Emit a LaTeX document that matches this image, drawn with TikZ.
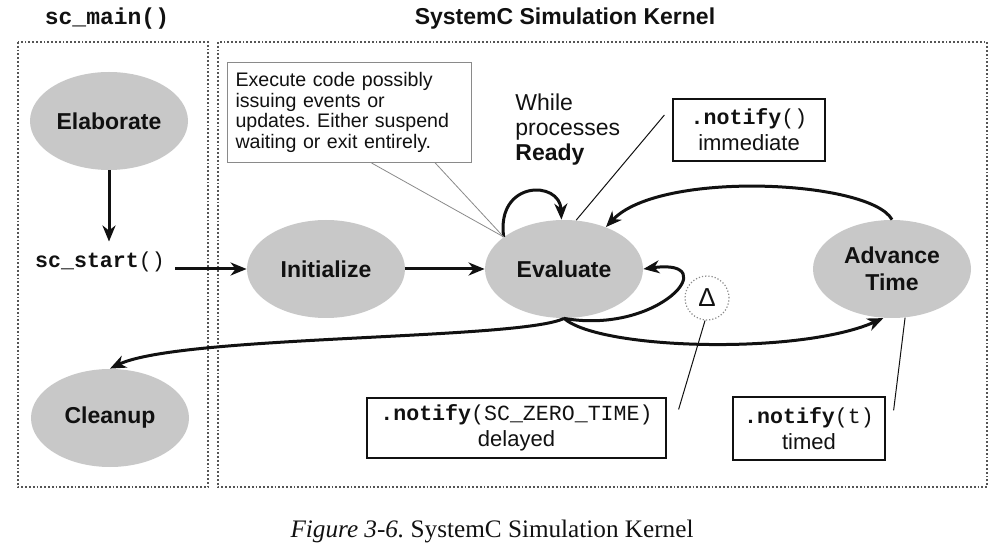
\documentclass[tikz,border=0pt]{standalone}
\usepackage{fontspec}
\setmainfont{Liberation Sans}
\setsansfont{Liberation Sans}
\setmonofont{Liberation Mono}
\newfontfamily\captionserif{Liberation Serif}
\usetikzlibrary{arrows.meta, positioning, calc, shapes.geometric}
\frenchspacing
\definecolor{ink}{HTML}{111111}
\definecolor{oval}{HTML}{C8C8C8}
\definecolor{frame}{HTML}{555555}
\definecolor{callout}{HTML}{8A8A8A}
\tikzset{
  font=\sffamily,
  >={Stealth[length=8pt, width=6.5pt, inset=2.5pt]},
  %
  state/.style={
    ellipse, fill=oval, draw=none, minimum width=79pt, minimum height=49pt,
    inner sep=0pt, align=center, text=ink,
    font=\sffamily\bfseries\fontsize{11.5}{13.5}\selectfont,
  },
  region/.style={draw=frame, line width=0.9pt, densely dotted},
  %
  flow/.style={draw=ink, line width=1.5pt, ->},
  pointer/.style={draw=ink, line width=0.5pt},
  calloutline/.style={draw=callout, line width=0.4pt},
  %
  notebox/.style={draw=ink, line width=0.6pt, align=center, inner sep=0pt,
                  text=ink, font=\sffamily\fontsize{11}{13}\selectfont},
  callbox/.style={draw=callout, line width=0.5pt, align=left, inner sep=4pt,
                  text=ink, font=\sffamily\fontsize{9.8}{10.3}\selectfont},
  title/.style={text=ink, font=\sffamily\bfseries\fontsize{11.5}{13}\selectfont},
  codetitle/.style={text=ink, font=\ttfamily\bfseries\fontsize{11.5}{13}\selectfont},
  code/.style={text=ink, font=\ttfamily\fontsize{10.8}{12}\selectfont},
}
\newcommand{\ntf}[1]{{\ttfamily\fontsize{10.8}{12}\selectfont\textbf{.notify}(#1)}}

\begin{document}
\begin{tikzpicture}[x=0.5pt, y=-0.5pt]
  \useasboundingbox (0,0) rectangle (999,549);

  % ---- frames -----------------------------------------------------------
  \draw[region] (18,42) rectangle (208,487);
  \draw[region] (218,42) rectangle (987,487);
  \node[codetitle] (maintitle) at (107,19) {sc\_main()};
  \node[title] (kerneltitle) at (565,19) {SystemC Simulation Kernel};

  % ---- states -----------------------------------------------------------
  \node[state] (elab)  at (109,121) {Elaborate};
  \node[state] (init)  at (326,269) {Initialize};
  \node[state] (eval)  at (564,269) {Evaluate};
  \node[state] (adv)   at (892,269) {Advance\\Time};
  \node[state] (clean) at (110,418) {Cleanup};

  \node[code, inner sep=5pt] (start) at (100,262) {\textbf{sc\_start}()};

  % ---- notes ------------------------------------------------------------
  \node[callbox, text width=114pt, minimum height=50pt, anchor=north west] (exec) at (227,62)
    {Execute code possibly\\issuing events or\\updates. Either suspend\\waiting or exit entirely.};
  \node[anchor=west, align=left, inner sep=0pt, text=ink,
        font=\sffamily\fontsize{11.5}{12.5}\selectfont] (ready) at (515,130)
    {While\\processes\\\textbf{Ready}};
  \node[notebox, minimum width=76pt, minimum height=31pt] (imm) at (749,130) {\ntf{}\\immediate};
  \node[notebox, minimum width=149.5pt, minimum height=30pt] (zero) at (516.5,428) {\ntf{SC\_ZERO\_TIME}\\delayed};
  \node[notebox, minimum width=76pt, minimum height=31.5pt] (timed) at (809,428.5) {\ntf{t}\\timed};
  \node[circle, draw=callout, densely dotted, line width=0.6pt, minimum size=22pt, inner sep=0pt,
        text=ink, font=\sffamily\fontsize{13}{13}\selectfont] (delta) at (707,298) {Δ};

  % ---- main flow --------------------------------------------------------
  \draw[flow] (elab.south) -- (elab.south |- start.north);
  \draw[flow] (init.west -| start.east) -- (init.west);
  \draw[flow] (init) -- (eval);

  % ready loop, time loop, delta loop
  \draw[flow] (eval.152) .. controls (496,180) and (560,180) .. (eval.93);
  \draw[flow] (adv.north) .. controls (870,180) and (660,170) .. (eval.45);
  \draw[flow] (eval.south) .. controls (660,335) and (725,258) .. (eval.east);
  \draw[flow] (eval.south) .. controls (600,350) and (800,355) .. (adv.260);
  \draw[flow] (eval.south) .. controls (520,340) and (180,335) .. (clean.north);

  % ---- pointers ---------------------------------------------------------
  \draw[calloutline] ($(exec.south west)!0.59!(exec.south east)$) -- (eval.152);
  \draw[calloutline] ($(exec.south west)!0.85!(exec.south east)$) -- (eval.152);
  \draw[pointer] ([xshift=-4pt, yshift=7.5pt]imm.west) -- (eval.76);
  \draw[pointer] ([xshift=6pt, yshift=-6pt]zero.north east) -- (delta.265);
  \draw[pointer] ([xshift=4pt, yshift=-7pt]timed.north east) -- (adv.285);

  % ---- caption ----------------------------------------------------------
  \node[anchor=base, text=ink, font=\captionserif\fontsize{12.6}{14}\selectfont] (caption) at (492,537)
    {\textit{Figure 3-6.} SystemC Simulation Kernel};

\end{tikzpicture}
\end{document}
